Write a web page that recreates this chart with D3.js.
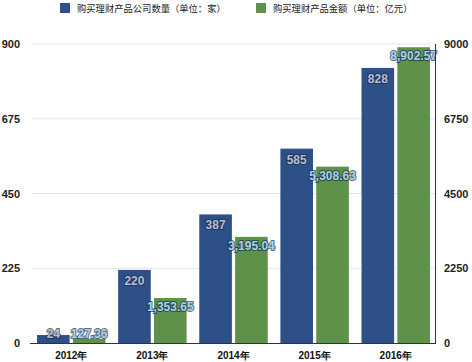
<!DOCTYPE html>
<html>
<head>
<meta charset="utf-8">
<script src="https://cdn.jsdelivr.net/npm/d3@7"></script>
<style>
  body { margin: 0; background: #fff; }
  svg { display: block; font-family: "Liberation Sans", Arial, sans-serif; }
</style>
</head>
<body>
<div id="chart"></div>
<script>
var w = 472, h = 362;

var years = ['2012年', '2013年', '2014年', '2015年', '2016年'];
var companies = [24, 220, 387, 585, 828];
var amounts = [127.36, 1353.65, 3195.04, 5308.63, 8902.57];
var leftTicks = [0, 225, 450, 675, 900];
var rightTicks = [0, 2250, 4500, 6750, 9000];
var seriesNames = ['购买理财产品公司数量（单位：家）', '购买理财产品金额（单位：亿元）'];

var blue = '#2e5089', green = '#5e9149';

var svg = d3.select('#chart').append('svg')
  .attr('width', w)
  .attr('height', h);

var x = d3.scaleBand().domain(years).range([32, 435]).paddingInner(0.156).paddingOuter(0.062);
var xs = d3.scaleBand().domain([0, 1]).range([0, x.bandwidth()]).paddingInner(0.09);
var yL = d3.scaleLinear().domain([0, 900]).range([343, 44]);
var yR = d3.scaleLinear().domain([0, 9000]).range([343, 44]);

// grid
svg.append('g').selectAll('line').data(leftTicks.slice(1)).join('line')
  .attr('x1', 32).attr('x2', 435)
  .attr('y1', function(d) { return yL(d); }).attr('y2', function(d) { return yL(d); })
  .attr('stroke', '#e4e4e4').attr('stroke-width', 1);

// left axis labels
var gl = svg.append('g').attr('transform', 'translate(20,0)')
  .call(d3.axisLeft(yL).tickValues(leftTicks).tickSize(0).tickPadding(0).tickFormat(d3.format('d')));
gl.select('.domain').remove();
gl.selectAll('line').remove();
gl.selectAll('text').attr('font-size', 11).attr('font-weight', 'bold').attr('fill', '#222')
  .attr('font-family', '"Liberation Sans", Arial, sans-serif');

// right axis labels
var gr = svg.append('g').attr('transform', 'translate(444,0)')
  .call(d3.axisRight(yR).tickValues(rightTicks).tickSize(0).tickPadding(0).tickFormat(d3.format('d')));
gr.select('.domain').remove();
gr.selectAll('line').remove();
gr.selectAll('text').attr('font-size', 11).attr('font-weight', 'bold').attr('fill', '#222')
  .attr('font-family', '"Liberation Sans", Arial, sans-serif');

// bars
var groups = svg.append('g').selectAll('g').data(years).join('g')
  .attr('transform', function(d) { return 'translate(' + x(d) + ',0)'; });

groups.append('rect')
  .attr('x', xs(0)).attr('width', xs.bandwidth())
  .attr('y', function(d, i) { return yL(companies[i]); })
  .attr('height', function(d, i) { return yL(0) - yL(companies[i]); })
  .attr('fill', blue);

groups.append('rect')
  .attr('x', xs(1)).attr('width', xs.bandwidth())
  .attr('y', function(d, i) { return yR(amounts[i]); })
  .attr('height', function(d, i) { return yR(0) - yR(amounts[i]); })
  .attr('fill', green);

// axis lines
svg.append('line').attr('x1', 30).attr('x2', 435).attr('y1', 343.5).attr('y2', 343.5)
  .attr('stroke', '#333').attr('stroke-width', 1);
svg.append('line').attr('x1', 435.5).attr('x2', 435.5).attr('y1', 44).attr('y2', 344)
  .attr('stroke', '#333').attr('stroke-width', 1);

// value labels
var fmt = d3.format(',.2f');
function labelY(top) { return Math.min(top + 15, 338); }

groups.append('text')
  .attr('x', xs(0) + xs.bandwidth() / 2)
  .attr('y', function(d, i) { return labelY(yL(companies[i])); })
  .attr('text-anchor', 'middle')
  .attr('font-size', 12).attr('font-weight', 'bold')
  .attr('fill', '#b6bfd8').attr('stroke', '#1c2a44').attr('stroke-width', 2)
  .attr('paint-order', 'stroke').attr('stroke-opacity', 0.7)
  .text(function(d, i) { return companies[i]; });

groups.append('text')
  .attr('x', xs(1) + xs.bandwidth() / 2)
  .attr('y', function(d, i) { return labelY(yR(amounts[i]) - 2); })
  .attr('text-anchor', 'middle')
  .attr('font-size', 12).attr('font-weight', 'bold')
  .attr('fill', '#a6d4ee').attr('stroke', '#1c2a44').attr('stroke-width', 2)
  .attr('paint-order', 'stroke').attr('stroke-opacity', 0.7)
  .text(function(d, i) { return fmt(amounts[i]); });

// category labels
svg.append('g').selectAll('text').data(years).join('text')
  .attr('x', function(d) { return x(d) + x.bandwidth() / 2; })
  .attr('y', 359)
  .attr('text-anchor', 'middle')
  .attr('font-size', 10).attr('font-weight', 'bold').attr('fill', '#111')
  .text(function(d) { return d; });

// legend
var legend = svg.append('g').selectAll('g').data(seriesNames).join('g')
  .attr('transform', function(d, i) { return 'translate(' + (i ? 256 : 60) + ',3)'; });
legend.append('rect').attr('width', 10).attr('height', 10)
  .attr('fill', function(d, i) { return i ? green : blue; });
legend.append('text').attr('x', 17).attr('y', 8.5)
  .attr('font-size', 9.3).attr('fill', '#222')
  .attr('font-family', '"Noto Sans CJK SC", sans-serif')
  .text(function(d) { return d; });
</script>
</body>
</html>
